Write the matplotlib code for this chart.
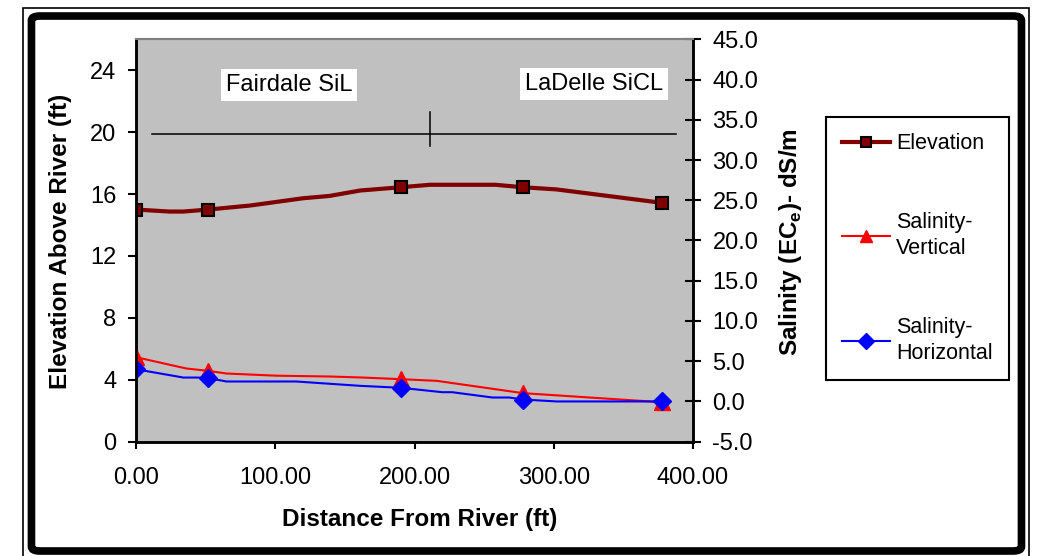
import matplotlib
matplotlib.use("Agg")
import matplotlib.pyplot as plt
from matplotlib.patches import FancyBboxPatch, Rectangle
from matplotlib.ticker import FuncFormatter, MultipleLocator

plt.rcParams['font.family'] = ['Liberation Sans', 'DejaVu Sans']
plt.rcParams['mathtext.fontset'] = 'custom'
plt.rcParams['mathtext.rm'] = 'Liberation Sans'
plt.rcParams['mathtext.bf'] = 'Liberation Sans:bold'

# Elevation (left axis, ft)
elev_x = [0, 24, 34, 52, 82, 120, 139, 161, 190, 211, 258, 278, 302, 378]
elev_y = [15.0, 14.87, 14.87, 15.0, 15.26, 15.73, 15.88, 16.23, 16.44, 16.6, 16.6, 16.44, 16.3, 15.43]
elev_marks = [0, 3, 8, 11, 13]

# Salinity - vertical (right axis, dS/m)
vert_x = [0, 36, 52, 65, 101, 139, 163, 190, 216, 278, 378]
vert_y = [5.5, 4.1, 3.8, 3.47, 3.2, 3.1, 2.97, 2.77, 2.56, 1.03, -0.1]
vert_marks = [0, 2, 7, 9, 10]

# Salinity - horizontal (right axis, dS/m)
horz_x = [0, 34, 44, 52, 65, 115, 161, 190, 220, 227, 256, 268, 278, 302, 378]
horz_y = [4.0, 2.97, 2.97, 2.9, 2.48, 2.48, 1.94, 1.7, 1.15, 1.15, 0.49, 0.49, 0.24, 0.0, 0.0]
horz_marks = [0, 3, 7, 12, 14]

# soil boundary marker lines (left axis units)
div_x = [11.3, 388]
div_y = [19.9, 19.9]
split_x = [211, 211]
split_y = [19.1, 21.3]

soil_names = ["Fairdale SiL", "LaDelle SiCL"]
soil_x = [110, 329]
soil_y = [23.05, 23.1]

fig = plt.figure(figsize=(10.42, 5.56), dpi=100)
ax = fig.add_axes([0.1305, 0.2056, 0.5346, 0.7237])
ax.set_facecolor('#C0C0C0')
ax2 = ax.twinx()

l1, = ax.plot(elev_x, elev_y, color='#800000', lw=3, marker='s', markevery=elev_marks,
              ms=8, mfc='#800000', mec='black', mew=1.5, label='Elevation')
ax.plot(div_x, div_y, color='black', lw=1.1)
ax.plot(split_x, split_y, color='black', lw=1.1)
for name, tx, ty in zip(soil_names, soil_x, soil_y):
    ax.text(tx, ty, name, ha='center', va='center', fontsize=17,
            bbox=dict(boxstyle='square,pad=0.2', fc='white', ec='none'))

l2, = ax2.plot(vert_x, vert_y, color='red', lw=1.5, marker='^', markevery=vert_marks,
               ms=11, mfc='red', mec='red', label='Salinity-\nVertical')
l3, = ax2.plot(horz_x, horz_y, color='blue', lw=1.5, marker='D', markevery=horz_marks,
               ms=9, mfc='blue', mec='blue', label='Salinity-\nHorizontal')

ax.set_xlim(0, 400)
ax.set_ylim(0, 26)
ax2.set_ylim(-5, 45)
ax.xaxis.set_major_locator(MultipleLocator(100))
ax.yaxis.set_major_locator(MultipleLocator(4))
ax2.yaxis.set_major_locator(MultipleLocator(5))
ax.xaxis.set_major_formatter(FuncFormatter(lambda v, p: f"{v:.2f}"))
ax2.yaxis.set_major_formatter(FuncFormatter(lambda v, p: f"{v:.1f}"))

ax.tick_params(axis='y', direction='out', length=6, width=1.5, pad=8, labelsize=17)
ax.tick_params(axis='x', direction='out', length=5, width=1.5, pad=13, labelsize=17)
ax2.tick_params(axis='y', direction='inout', length=12, width=1.5, pad=8, labelsize=17)

for a in (ax, ax2):
    a.spines['left'].set_linewidth(1.8)
    a.spines['bottom'].set_linewidth(1.8)
    a.spines['right'].set_linewidth(1.8)
    a.spines['top'].set_color('#808080')
    a.spines['top'].set_linewidth(1.5)

ax.set_xlabel("Distance From River (ft)", fontsize=17.5, fontweight='bold')
ax.set_ylabel("Elevation Above River (ft)", fontsize=17.5, fontweight='bold')
ax2.set_ylabel("Salinity (EC$_{\\mathbf{e}}$)- dS/m", fontsize=17.5, fontweight='bold')
ax.xaxis.set_label_coords(0.51, -0.165)
ax.yaxis.set_label_coords(-0.115, 0.497)
ax2.yaxis.set_label_coords(1.151, 0.497)

leg = fig.legend(handles=[l1, l2, l3], loc='upper left', bbox_to_anchor=(0.7927, 0.7896),
                 borderaxespad=0, fontsize=15.5, frameon=True, fancybox=False,
                 edgecolor='black', framealpha=1, handlelength=2.2, handletextpad=0.3,
                 borderpad=0.75, labelspacing=2.7, numpoints=1, markerscale=0.85)
leg.get_frame().set_linewidth(1.5)
for t in leg.get_texts():
    t.set_linespacing(1.3)

# outer chart frames
fig.add_artist(Rectangle((0.0221, -0.02), 0.9654, 1.0056, transform=fig.transFigure,
                         fill=False, ec='black', lw=1.2))
fig.add_artist(FancyBboxPatch((0.0302, 0.0090), 0.9501, 0.9622,
                              boxstyle='round,pad=0,rounding_size=0.008',
                              transform=fig.transFigure, fill=False, ec='black', lw=5.5))

fig.savefig("out.png", dpi=100)
